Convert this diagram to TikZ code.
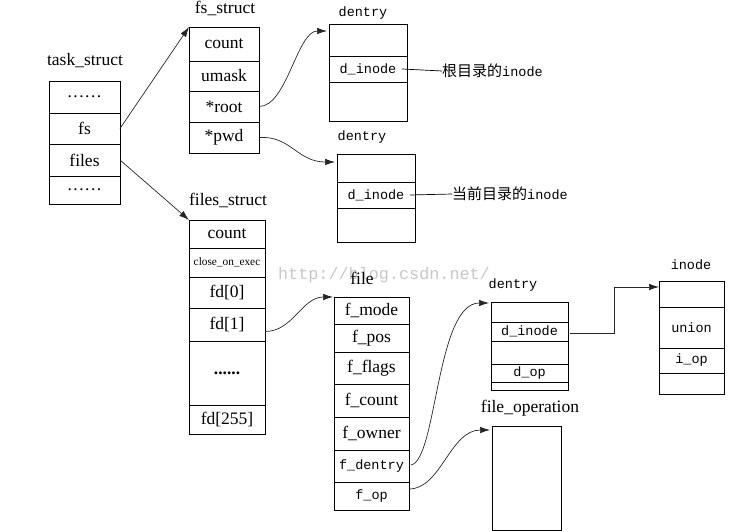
\documentclass[tikz,border=0pt]{standalone}
\usepackage{fontspec}
\setmainfont{Liberation Serif}
\setmonofont{Liberation Mono}
\newfontfamily\cjk{Noto Sans CJK SC}
\usetikzlibrary{arrows.meta,calc}
\newcommand\spdots{.\hspace{1.5pt}.\hspace{1.5pt}.\hspace{1.5pt}.\hspace{1.5pt}.\hspace{1.5pt}.}
\begin{document}
\begin{tikzpicture}[x=1pt,y=-1pt,
  cell/.style={draw=black, line width=0.8pt, inner sep=0pt, outer sep=0pt, font=\fontsize{17.5}{17.5}\selectfont},
  mcell/.style={cell, font=\ttfamily\fontsize{13.5}{13.5}\selectfont},
  lbl/.style={inner sep=0pt, font=\fontsize{17.5}{17.5}\selectfont},
  mlbl/.style={inner sep=0pt, font=\ttfamily\fontsize{13.5}{13.5}\selectfont},
  cjklbl/.style={inner sep=0pt, anchor=west, font=\cjk\fontsize{15}{15}\selectfont},
  arr/.style={draw=black!85, line width=0.7pt, -{Latex[length=10pt,width=6.5pt]}},
  lnk/.style={draw=black, line width=0.7pt},
  tsw/.style={cell, minimum width=71pt},
  fsw/.style={cell, minimum width=70pt},
  d1w/.style={mcell, minimum width=78pt},
  fiw/.style={cell, minimum width=76pt},
  flw/.style={cell, minimum width=75pt},
  flm/.style={mcell, minimum width=75pt},
  d3w/.style={mcell, minimum width=77pt},
  inw/.style={mcell, minimum width=65pt},
]
\path[use as bounding box] (0,0) rectangle (750,532);

% watermark
\node[inner sep=0pt, text=black!22, font=\ttfamily\fontsize{16.8}{16.8}\selectfont] (wm) at (384,275) {http://blog.csdn.net/};

% task_struct
\node[lbl] (tslbl) at (85,61) {task\_struct};
\node[tsw, minimum height=32pt] (ts1) at (84.5,97) {\spdots};
\node[tsw, minimum height=31pt] (ts2) at (84.5,128.5) {fs};
\node[tsw, minimum height=32pt] (ts3) at (84.5,160) {files};
\node[tsw, minimum height=28pt] (ts4) at (84.5,190) {\spdots};

% fs_struct
\node[lbl] (fslbl) at (225,8) {fs\_struct};
\node[fsw, minimum height=34pt] (fs1) at (224,44) {count};
\node[fsw, minimum height=30pt] (fs2) at (224,76) {umask};
\node[fsw, minimum height=31pt] (fs3) at (224,106.5) {*root};
\node[fsw, minimum height=31pt] (fs4) at (224,137.5) {*pwd};

% dentry 1
\node[mlbl] (d1lbl) at (363,13) {dentry};
\node[d1w, minimum height=32pt] (d1a) at (368,40) {};
\node[d1w, minimum height=26pt] (d1b) at (368,69) {d\_inode};
\node[d1w, minimum height=39pt] (d1c) at (368,101.5) {};
\node[cjklbl] (rootino) at (442,71) {根目录的{\ttfamily\fontsize{13.5}{13.5}\selectfont inode}};

% dentry 2
\node[mlbl] (d2lbl) at (362,137) {dentry};
\node[d1w, minimum height=28pt] (d2a) at (376,168) {};
\node[d1w, minimum height=26pt] (d2b) at (376,195) {d\_inode};
\node[d1w, minimum height=34pt] (d2c) at (376,225) {};
\node[cjklbl] (pwdino) at (452,194) {当前目录的{\ttfamily\fontsize{13.5}{13.5}\selectfont inode}};

% files_struct
\node[lbl] (filslbl) at (228,200) {files\_struct};
\node[fiw, minimum height=28pt] (fi1) at (227,234) {count};
\node[fiw, minimum height=29pt, font=\fontsize{11.3}{11.3}\selectfont] (fi2) at (227,262.5) {close\_on\_exec};
\node[fiw, minimum height=31pt] (fi3) at (227,292.5) {fd[0]};
\node[fiw, minimum height=33pt] (fi4) at (227,324.5) {fd[1]};
\node[fiw, minimum height=64pt] (fi5) at (227,373) {\textbf{......}};
\node[fiw, minimum height=29pt] (fi6) at (227,419.5) {fd[255]};

% file
\node[lbl] (filelbl) at (362,278) {file};
\node[flw, minimum height=27pt] (fl1) at (371.5,310.5) {f\_mode};
\node[flw, minimum height=28pt] (fl2) at (371.5,338) {f\_pos};
\node[flw, minimum height=32pt] (fl3) at (371.5,368) {f\_flags};
\node[flw, minimum height=33pt] (fl4) at (371.5,400.5) {f\_count};
\node[flw, minimum height=33pt] (fl5) at (371.5,433.5) {f\_owner};
\node[flm, minimum height=32pt] (fl6) at (371.5,466) {f\_dentry};
\node[flm, minimum height=28pt] (fl7) at (371.5,496) {f\_op};

% dentry 3
\node[mlbl] (d3lbl) at (513,285) {dentry};
\node[d3w, minimum height=20pt] (e1) at (529.5,312) {};
\node[d3w, minimum height=19pt] (e2) at (529.5,331.5) {d\_inode};
\node[d3w, minimum height=23pt] (e3) at (529.5,352.5) {};
\node[d3w, minimum height=18pt] (e4) at (529.5,373) {d\_op};
\node[d3w, minimum height=8pt] (e5) at (529.5,386) {};

% inode
\node[mlbl] (inlbl) at (691,265) {inode};
\node[inw, minimum height=26pt] (i1) at (691.5,294) {};
\node[inw, minimum height=41pt] (i2) at (691.5,327.5) {union};
\node[inw, minimum height=25pt] (i3) at (691.5,360.5) {i\_op};
\node[inw, minimum height=21pt] (i4) at (691.5,383.5) {};

% file_operation
\node[lbl] (folbl) at (530,408) {file\_operation};
\node[cell, minimum width=69pt, minimum height=104pt] (fop) at (526.5,478) {};

% connectors
\draw[arr] (ts2.east) -- (fs1.north west);
\draw[arr] (ts3.east) -- (fi1.north west);
\draw[arr] (fs3.east) .. controls ($(fs3.east)+(28,0)$) and ($(d1a.north west)+(-32,7)$) .. ($(d1a.north west)+(-2,7)$);
\draw[arr] (fs4.east) .. controls ($(fs4.east)+(32,-2)$) and ($(d2a.west)+(-40,-6)$) .. ($(d2a.west)+(-2,-6)$);
\draw[arr] ($(fi4.east)+(0,7)$) .. controls ($(fi4.east)+(28,7)$) and ($(fl1.north west)+(-32,0)$) .. ($(fl1.north west)+(-1,0)$);
\draw[arr] ($(fl6.east)+(2,-1)$) .. controls ($(fl6.east)+(28,-6)$) and ($(e1.west)+(-55,-9)$) .. ($(e1.west)+(-2,-9)$);
\draw[arr] ($(fl7.east)+(0,-7)$) .. controls ($(fl7.east)+(32,-7)$) and ($(fop.north west)+(-42,4)$) .. ($(fop.north west)+(-2,4)$);
\draw[lnk] ($(d1b.east)+(-5,0)$) -- (rootino.west);
\draw[lnk] ($(d2b.east)+(-5,0)$) -- (pwdino.west);
\draw[arr] ($(e2.east)+(2,1.5)$) -- ++(44,0) |- ($(i1.west)+(0,-7)$);
\end{tikzpicture}
\end{document}
